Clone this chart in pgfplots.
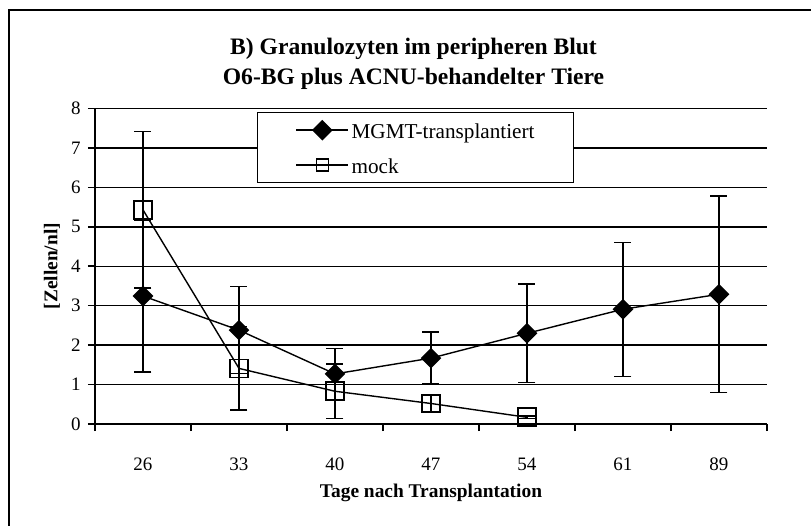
\documentclass[border=0pt]{standalone}
\usepackage{fontspec}
\setmainfont{Liberation Serif}
\usepackage{pgfplots}
\pgfplotsset{compat=1.18}
\usepackage{pgfplotstable}

\pgfplotstableread{
x y err
0 3.245 1.925
1 2.38 1.10
2 1.27 0.65
3 1.67 0.66
4 2.30 1.25
5 2.91 1.70
6 3.29 2.49
}\mgmt

\pgfplotstableread{
x y err
0 5.43 1.98
1 1.41 1.06
2 0.83 0.69
3 0.52 0.20
4 0.17 0.03
}\mock

\begin{document}
\begin{tikzpicture}
\useasboundingbox (0,0) rectangle (405.5pt,263pt);
\draw[line width=1.2pt] (4.5pt,-20pt) rectangle (440pt,258pt);
\begin{axis}[
  at={(47.5pt,51pt)}, anchor=south west,
  scale only axis, width=336pt, height=157.75pt,
  xmin=-0.5, xmax=6.5, ymin=0, ymax=8,
  axis x line=bottom, axis y line=left,
  axis line style={-, line width=0.8pt},
  tick align=outside,
  major tick length=3.5pt,
  minor tick length=3.5pt,
  tick style={line width=0.8pt, black},
  xtick={0,1,2,3,4,5,6},
  xticklabels={26,33,40,47,54,61,89},
  minor xtick={-0.5,0.5,...,6.5},
  major x tick style={draw=none},
  minor x tick style={line width=0.8pt, black},
  ytick={0,1,...,8},
  ymajorgrids,
  grid style={black, line width=0.75pt},
  /pgf/number format/assume math mode=true,
  tick label style={font=\fontsize{9.5}{11}\selectfont},
  xticklabel style={anchor=center, yshift=-16.5pt},
  yticklabel style={anchor=east, inner sep=0pt, xshift=-3.5pt},
  ylabel={[Zellen/nl]},
  ylabel style={at={(axis description cs:-0.064,0.5)}, anchor=center, font=\fontsize{9.7}{11}\selectfont\bfseries},
  xlabel={Tage nach Transplantation},
  xlabel style={at={(axis description cs:0.5,-0.2187)}, anchor=center, font=\fontsize{9.7}{11}\selectfont\bfseries},
  title={B) Granulozyten im peripheren Blut\\O6-BG plus ACNU-behandelter Tiere},
  title style={at={(axis description cs:0.474,1.103)}, anchor=center, align=center, font=\fontsize{11.8}{15}\selectfont\bfseries},
  clip=false,
  legend style={at={(axis description cs:0.241,0.989)}, anchor=north west,
    draw=black, line width=0.7pt, fill=white, inner xsep=17pt, inner ysep=3pt,
    row sep=6pt,
    font=\fontsize{10.6}{12}\selectfont,
    nodes={text width=92.5pt, align=left, inner xsep=1.3pt, inner ysep=1pt, text height=9pt, text depth=0.5pt}},
  legend cell align=left,
  legend image code/.code={
    \path (-2pt,0pt);
    \draw[#1, mark=none] (0pt,0pt) -- (26pt,0pt);
    \draw[#1, only marks] plot coordinates {(13pt,0pt)};
  },
]
\addplot[black, line width=0.7pt, mark=square*, mark size=3.3pt,
  mark options={rotate=45, solid, fill=black},
  error bars/.cd, y dir=both, y explicit,
  error bar style={line width=0.7pt, black},
  error mark options={rotate=90, mark size=4.25pt, line width=0.7pt, black}]
  table[x=x, y=y, y error=err] {\mgmt};
\addlegendentry{\mbox{MGMT-transplantiert}}
\addplot[black, line width=0.7pt, mark=square, mark size=4.5pt,
  mark options={solid, line width=0.8pt},
  legend image post style={mark size=3pt},
  error bars/.cd, y dir=both, y explicit,
  error bar style={line width=0.7pt, black},
  error mark options={rotate=90, mark size=4.25pt, line width=0.7pt, black}]
  table[x=x, y=y, y error=err] {\mock};
\addlegendentry{mock}
\end{axis}
\end{tikzpicture}
\end{document}
